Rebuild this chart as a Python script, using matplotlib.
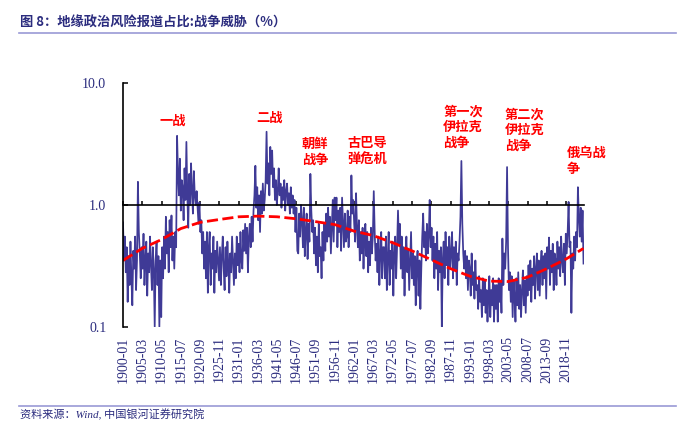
import numpy as np
import matplotlib
matplotlib.use('Agg')
import matplotlib.pyplot as plt
from matplotlib.lines import Line2D
from matplotlib.ticker import NullLocator

plt.rcParams['font.family'] = ['Liberation Serif', 'Noto Sans CJK SC', 'DejaVu Sans']

# 战争威胁报道占比（%），季度取值，从 1900 年一季度开始，按年代分段
war_1900s = [0.72, 0.35, 0.55, 0.28, 0.45, 0.16, 0.38, 0.22, 0.50, 0.25, 0.15, 0.42, 0.30, 0.55, 0.20, 0.35,
             1.55, 0.60, 0.40, 0.25, 0.45, 0.30, 0.58, 0.22, 0.35, 0.50, 0.18, 0.40, 0.28, 0.55, 0.32, 0.20,
             0.45, 0.30, 0.10, 0.35, 0.50, 0.22, 0.38, 0.10]
war_1910s = [0.35, 0.12, 0.45, 0.25, 0.55, 0.30, 0.80, 0.40, 0.60, 0.28, 0.75, 0.45, 0.82, 0.35, 0.55, 0.30,
             0.60, 0.45, 3.70, 1.80, 1.20, 2.40, 0.90, 1.60, 1.40, 0.75, 2.00, 1.10, 3.30, 1.20, 0.65, 1.80,
             1.00, 2.20, 1.30, 0.85, 1.90, 1.20, 1.00, 1.30]
war_1920s = [0.95, 0.70, 1.05, 0.60, 0.75, 0.40, 0.60, 0.30, 0.50, 0.25, 0.60, 0.19, 0.45, 0.60, 0.22, 0.40,
             0.30, 0.55, 0.19, 0.42, 0.28, 0.50, 0.35, 0.24, 0.45, 0.22, 0.38, 0.55, 0.30, 0.20, 0.45, 0.26,
             0.50, 0.32, 0.19, 0.40, 0.28, 0.55, 0.35, 0.22]
war_1930s = [0.40, 0.25, 0.55, 0.32, 0.48, 0.28, 0.60, 0.35, 0.30, 0.62, 0.42, 0.70, 0.40, 0.65, 0.28, 0.55,
             0.70, 0.45, 0.80, 0.50, 0.90, 1.20, 2.10, 0.95, 1.40, 0.75, 1.20, 0.60, 1.30, 0.85, 1.50, 0.90,
             1.10, 1.60, 4.00, 1.50, 2.20, 1.20, 3.00, 1.80]
war_1940s = [2.80, 1.40, 2.00, 1.10, 1.60, 1.00, 1.30, 2.00, 1.20, 1.50, 0.95, 1.40, 1.10, 1.60, 0.90, 1.30,
             1.50, 1.00, 1.25, 0.85, 1.40, 0.95, 1.20, 0.85, 1.10, 0.60, 0.95, 0.42, 0.40, 0.85, 0.55, 1.00,
             0.75, 0.45, 0.95, 0.38, 0.60, 0.85, 0.36, 0.70]
war_1950s = [0.50, 1.80, 0.90, 0.60, 0.75, 0.40, 0.65, 0.32, 0.55, 0.28, 0.70, 0.38, 0.45, 0.25, 0.60, 0.35,
             0.70, 0.42, 0.85, 0.50, 0.95, 0.55, 0.80, 0.40, 0.65, 1.10, 0.50, 1.15, 0.75, 1.15, 0.45, 0.90,
             0.60, 0.95, 0.42, 1.15, 0.70, 0.45, 0.85, 0.50]
war_1960s = [0.55, 0.90, 0.45, 0.80, 0.60, 1.75, 0.85, 1.10, 0.70, 0.50, 1.25, 0.65, 0.45, 0.75, 0.35, 0.60,
             0.40, 0.65, 0.30, 0.55, 0.70, 0.38, 0.60, 0.28, 0.50, 0.32, 0.65, 0.40, 0.55, 1.30, 0.60, 0.35,
             0.48, 0.28, 0.55, 0.22, 0.40, 0.60, 0.25, 0.45]
war_1970s = [0.45, 0.25, 0.55, 0.20, 0.38, 0.60, 0.22, 0.42, 0.30, 0.50, 0.18, 0.40, 0.55, 0.25, 0.45, 0.90,
             0.48, 0.70, 0.30, 0.55, 0.25, 0.45, 0.18, 0.38, 0.55, 0.28, 0.42, 0.20, 0.35, 0.60, 0.25, 0.40,
             0.22, 0.38, 0.15, 0.32, 0.42, 0.18, 0.35, 0.14]
war_1980s = [0.30, 0.55, 0.85, 0.45, 0.60, 0.35, 0.70, 0.40, 0.55, 1.10, 0.45, 0.65, 0.35, 0.55, 0.25, 0.48,
             0.30, 0.60, 0.20, 0.42, 0.28, 0.45, 0.10, 0.35, 0.50, 0.25, 0.60, 0.32, 0.45, 0.22, 0.55, 0.30,
             0.40, 0.60, 0.25, 0.45, 0.30, 0.50, 0.22, 0.40]
war_1990s = [0.35, 0.50, 0.80, 2.30, 0.70, 0.40, 0.30, 0.42, 0.25, 0.38, 0.20, 0.35, 0.30, 0.18, 0.40, 0.22,
             0.28, 0.17, 0.35, 0.20, 0.22, 0.14, 0.26, 0.16, 0.20, 0.12, 0.25, 0.15, 0.24, 0.13, 0.20, 0.11,
             0.18, 0.26, 0.12, 0.20, 0.15, 0.25, 0.11, 0.22]
war_2000s = [0.14, 0.22, 0.11, 0.25, 0.16, 0.24, 0.13, 0.53, 0.22, 0.40, 0.30, 0.50, 2.05, 0.45, 0.20, 0.28,
             0.16, 0.26, 0.12, 0.24, 0.18, 0.11, 0.25, 0.15, 0.28, 0.14, 0.22, 0.12, 0.20, 0.29, 0.15, 0.24,
             0.13, 0.26, 0.18, 0.32, 0.20, 0.35, 0.16, 0.30]
war_2010s = [0.22, 0.38, 0.17, 0.30, 0.40, 0.20, 0.35, 0.18, 0.32, 0.42, 0.22, 0.38, 0.25, 0.40, 0.17, 0.45,
             0.30, 0.54, 0.22, 0.42, 0.28, 0.48, 0.20, 0.40, 0.35, 0.22, 0.50, 0.30, 0.45, 0.26, 0.55, 0.35,
             0.28, 0.48, 0.22, 0.58, 0.40, 0.60, 1.06, 0.45]
war_2020s = [0.50, 0.13, 0.40, 0.30, 0.55, 0.35, 0.60, 0.45, 1.40, 0.80, 0.55, 0.95, 0.50, 0.90, 0.33]

# 红色虚线趋势（在每个刻度处读取，最后一个为序列末端）
trend_vals = [0.35, 0.44, 0.52, 0.64, 0.72, 0.76, 0.80, 0.81, 0.80, 0.77, 0.73, 0.69, 0.61, 0.56, 0.49,
              0.42, 0.355, 0.30, 0.26, 0.237, 0.235, 0.255, 0.30, 0.36, 0.44]

tick_labels = ['1900-01', '1905-03', '1910-05', '1915-07', '1920-09', '1925-11', '1931-01', '1936-03',
               '1941-05', '1946-07', '1951-09', '1956-11', '1962-01', '1967-03', '1972-05', '1977-07',
               '1982-09', '1987-11', '1993-01', '1998-03', '2003-05', '2008-07', '2013-09', '2018-11']

# 事件标注: (文字, 月份序号, 顶部取值)
events = [('一战', 119, 5.6), ('二战', 428, 6.0), ('朝鲜\n战争', 576, 3.6), ('古巴导\n弹危机', 721, 3.7),
          ('第一次\n伊拉克\n战争', 1030, 6.7), ('第二次\n伊拉克\n战争', 1229, 6.35), ('俄乌战\n争', 1429, 3.05)]

navy = '#2B2C7E'

war = war_1900s + war_1910s + war_1920s + war_1930s + war_1940s + war_1950s + war_1960s + \
      war_1970s + war_1980s + war_1990s + war_2000s + war_2010s + war_2020s
months = np.arange(len(war)) * 3          # 季度 -> 月份序号
tick_pos = np.arange(len(tick_labels)) * 62
trend_x = list(tick_pos) + [months[-1]]

fig = plt.figure(figsize=(6.93, 4.25), dpi=100)
ax = fig.add_axes([0.1775, 0.2313, 0.6645, 0.5727])

ax.plot(months, war, color='#3F3A96', lw=1.25)
ax.plot(trend_x, trend_vals, color='#FF0000', lw=2.0, dashes=(4, 1.6))

ax.set_yscale('log')
ax.set_ylim(0.1, 10)
ax.set_xlim(0, months[-1])
ax.set_yticks([0.1, 1, 10])
ax.set_yticklabels(['0.1', '1.0', '10.0'])
ax.yaxis.set_minor_locator(NullLocator())
ax.set_xticks(tick_pos)
ax.set_xticklabels(tick_labels)

# 横轴放在 1.0 处
ax.spines['right'].set_visible(False)
ax.spines['bottom'].set_visible(False)
ax.spines['top'].set_position(('data', 1.0))
ax.spines['top'].set_linewidth(1.2)
ax.spines['left'].set_linewidth(1.2)

ax.tick_params(axis='x', top=True, bottom=False, labeltop=False, labelbottom=True, labelrotation=90,
               direction='out', length=3, width=1.1, pad=4, labelsize=10, labelcolor=navy)
ax.tick_params(axis='y', direction='in', length=3.5, width=1.1, pad=12, labelsize=10, labelcolor=navy)

for text, m, v in events:
    ax.text(m, v, text, ha='left', va='top', color='#FF0000', fontsize=9.5, fontweight='bold',
            family=['Noto Sans CJK SC'], linespacing=1.15)

fig.text(0.029, 1 - 23 / 425, '图 8：地缘政治风险报道占比:战争威胁（%）', ha='left', va='center',
         fontsize=9.5, fontweight='bold', color=navy, family=['Noto Sans CJK SC', 'DejaVu Sans'])
fig.add_artist(Line2D([0.027, 0.975], [1 - 33 / 425] * 2, transform=fig.transFigure, color='#9999D6', lw=1.2))
fig.add_artist(Line2D([0.027, 0.975], [1 - 406 / 425] * 2, transform=fig.transFigure, color='#9999D6', lw=1.2))
fig.text(0.029, 1 - 415 / 425, '资料来源：Wind, 中国银河证券研究院', ha='left', va='center', fontsize=8,
         style='italic', color=navy, family=['Liberation Serif', 'Noto Sans CJK SC'])

fig.savefig('out.png', dpi=100)
